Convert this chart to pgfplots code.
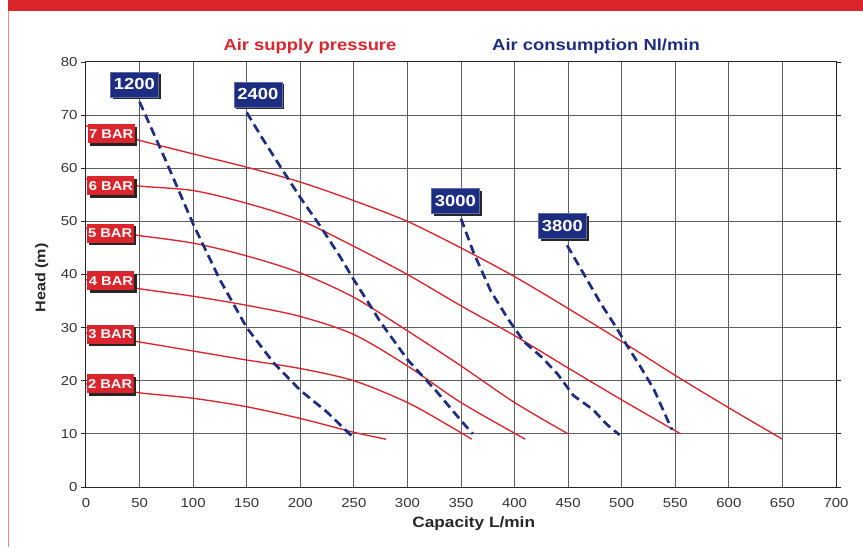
\documentclass[border=0pt]{standalone}
\usepackage{fontspec}
\setmainfont{Liberation Sans}[FakeStretch=1.15]
\usepackage{pgfplots}
\pgfplotsset{compat=1.18}
\usetikzlibrary{shadows}
\definecolor{pumpred}{RGB}{218,37,45}
\definecolor{pumpblue}{RGB}{28,45,130}
\definecolor{gridgray}{RGB}{95,95,95}
\tikzset{
  redbox/.style={fill=pumpred, text=white, font=\fontsize{12.8}{14}\selectfont\bfseries,
    minimum width=47pt, minimum height=19pt, inner sep=1pt,
    drop shadow={shadow xshift=2.5pt, shadow yshift=-2.5pt, fill=black!85, opacity=1}},
  bluebox/.style={fill=pumpblue, draw=pumpblue!70!white, line width=0.5pt, text=white, font=\fontsize{16}{18}\selectfont\bfseries,
    minimum width=48pt, minimum height=25pt, inner sep=1pt,
    drop shadow={shadow xshift=2.5pt, shadow yshift=-2.5pt, fill=black!85, opacity=1}},
}
\begin{document}
\begin{tikzpicture}[x=1pt,y=1pt]
\useasboundingbox (-86,-60) rectangle (777,487);
\fill[pumpred] (-78,476) rectangle (777,487);
\draw[pumpred!55, line width=1.2pt] (-77.4,476) -- (-77.4,-60);
\node[font=\fontsize{16}{18}\selectfont\bfseries, text=pumpred] at (224,441) {Air supply pressure};
\node[font=\fontsize{16}{18}\selectfont\bfseries, text=pumpblue] at (510,441) {Air consumption Nl/min};
\begin{axis}[
  at={(0,0)}, anchor=south west, scale only axis,
  width=750pt, height=425pt,
  xmin=0, xmax=700, ymin=0, ymax=80,
  xtick={0,50,...,700}, ytick={0,10,...,80},
  grid=major, major grid style={gridgray, line width=1pt},
  axis line style={black!85, line width=1pt},
  tick align=outside, major tick length=5pt,
  xtick style={draw=none},
  ytick style={black!85, line width=0.9pt},
  ticklabel style={font=\fontsize{13}{14}\selectfont, text=black!80},
  xticklabel style={yshift=-3pt},
  /pgf/number format/assume math mode=true,
  xlabel={Capacity L/min}, ylabel={Head (m)},
  xlabel style={font=\fontsize{15}{16}\selectfont\bfseries, text=black!85, at={(axis description cs:0.517,-0.085)}, anchor=center},
  ylabel style={font=\fontsize{14}{16}\selectfont\bfseries, text=black!85, at={(axis description cs:-0.059,0.492)}, anchor=center},
  clip=false,
]
% Air supply pressure curves
\addplot[pumpred, line width=1.35pt, smooth, tension=0.5] coordinates {(0,68) (47,65.4) (100,62.7) (150,60.2) (200,57.4) (250,53.9) (300,50) (350,45) (400,39.6) (450,33.6) (500,27.4) (550,21) (600,14.9) (650,9)};
\addplot[pumpred, line width=1.35pt, smooth, tension=0.5] coordinates {(0,58) (47,56.7) (100,55.8) (150,53.4) (200,50.2) (250,45.3) (300,40) (350,34.1) (400,28.5) (450,22.4) (500,16.4) (555,10)};
\addplot[pumpred, line width=1.35pt, smooth, tension=0.5] coordinates {(0,48.7) (47,47.4) (100,45.9) (150,43.5) (200,40.3) (250,35.7) (300,29.4) (350,22.8) (400,15.9) (450,10)};
\addplot[pumpred, line width=1.35pt, smooth, tension=0.5] coordinates {(0,39) (47,37.4) (100,35.9) (150,34.2) (200,32.1) (250,28.7) (300,22.8) (350,15.9) (410,9)};
\addplot[pumpred, line width=1.35pt, smooth, tension=0.5] coordinates {(0,29) (47,27.4) (100,25.6) (150,23.9) (200,22.3) (250,20) (300,15.9) (340,11.4) (360,9)};
\addplot[pumpred, line width=1.35pt, smooth, tension=0.5] coordinates {(0,19.4) (47,17.8) (100,16.7) (150,15.1) (200,12.9) (250,10.3) (280,9)};
% Air consumption curves
\addplot[pumpblue, line width=2.7pt, dash pattern=on 9pt off 5pt] coordinates {(50,72.5) (75,61.2) (100,49.5) (125,39) (150,30) (175,23.4) (200,18.2) (225,14.1) (248,9.6)};
\addplot[pumpblue, line width=2.7pt, dash pattern=on 9pt off 5pt] coordinates {(150,70.5) (165,65.5) (183,59.8) (200,54.5) (219,49) (237,43.4) (250,39) (262,35.2) (275,31) (300,24) (328,17.8) (350,12.5) (361,10)};
\addplot[pumpblue, line width=2.7pt, dash pattern=on 9pt off 5pt] coordinates {(350,50.5) (362,44) (378,36.8) (394,31.6) (409,27.3) (425,24.5) (440,21.3) (455,17.2) (473,14.6) (486,11.8) (498,9.8)};
\addplot[pumpblue, line width=2.7pt, dash pattern=on 9pt off 5pt] coordinates {(449,45.5) (464,40.3) (480,34.7) (495,30) (505,26.6) (517,22.8) (530,18.4) (545,11.6) (547,10.8)};
% labels
\node[redbox] at (axis cs:23.6,66.5) {7 BAR};
\node[redbox] at (axis cs:23.3,56.7) {6 BAR};
\node[redbox] at (axis cs:22.5,47.8) {5 BAR};
\node[redbox] at (axis cs:23.3,38.8) {4 BAR};
\node[redbox] at (axis cs:22.8,28.8) {3 BAR};
\node[redbox] at (axis cs:22.5,19.4) {2 BAR};
\node[bluebox] at (axis cs:45.1,75.8) {1200};
\node[bluebox] at (axis cs:160.5,73.9) {2400};
\node[bluebox] at (axis cs:344.8,53.8) {3000};
\node[bluebox] at (axis cs:444.6,49.2) {3800};
\end{axis}
\end{tikzpicture}
\end{document}
